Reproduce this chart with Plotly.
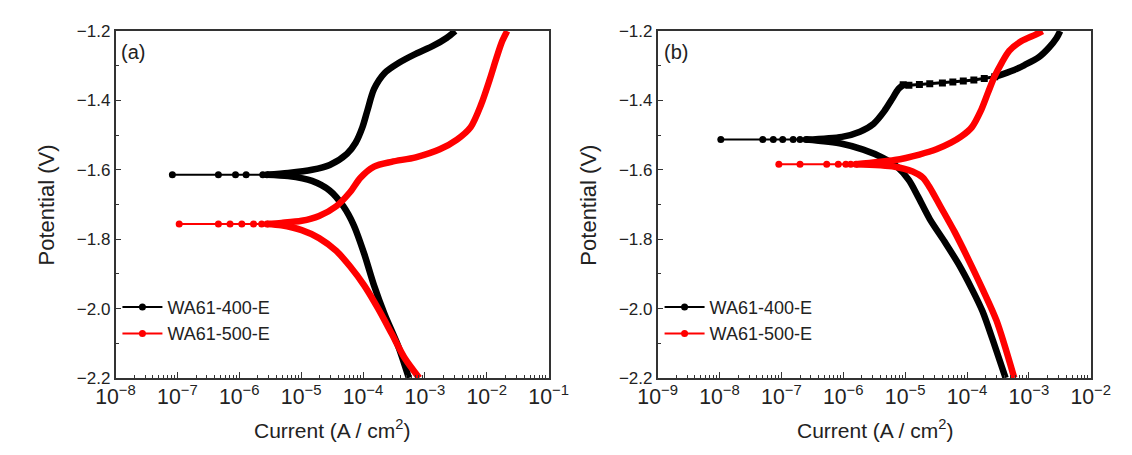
import plotly.graph_objects as go

# ---------------- Panel (a) data ----------------
a400_plat_i = [8.3e-8, 4.6e-7, 8.7e-7, 1.29e-6, 2.4e-6, 2.8e-6]
a400_plat_E = [-1.614, -1.614, -1.614, -1.614, -1.614, -1.614]
a400_ano_i = [2.8e-6, 6.2e-6, 1.5e-5, 2.9e-5, 5.5e-5, 7.6e-5, 9.8e-5, 1.17e-4, 1.51e-4,
              2.24e-4, 3.7e-4, 7.1e-4, 1.35e-3, 2.24e-3, 3.1e-3]
a400_ano_E = [-1.614, -1.609, -1.600, -1.586, -1.554, -1.522, -1.477, -1.431, -1.367,
              -1.321, -1.293, -1.266, -1.243, -1.220, -1.200]
a400_cat_i = [2.8e-6, 6.2e-6, 1.5e-5, 2.9e-5, 4.8e-5, 7.1e-5, 1.05e-4, 1.51e-4, 2.24e-4,
              3.7e-4, 5.5e-4]
a400_cat_E = [-1.614, -1.618, -1.632, -1.660, -1.705, -1.760, -1.843, -1.934, -2.017,
              -2.108, -2.200]

a500_plat_i = [1.07e-7, 4.6e-7, 7.1e-7, 1.1e-6, 1.7e-6, 2.3e-6, 2.8e-6]
a500_plat_E = [-1.756, -1.756, -1.756, -1.756, -1.756, -1.756, -1.756]
a500_ano_i = [2.8e-6, 4.8e-6, 1.02e-5, 1.95e-5, 3.7e-5, 6.2e-5, 9.1e-5, 1.51e-4, 2.9e-4,
              7.1e-4, 1.74e-3, 3.3e-3, 5.5e-3, 8.1e-3, 1.12e-2, 1.45e-2, 1.78e-2, 2.14e-2]
a500_ano_E = [-1.756, -1.753, -1.747, -1.733, -1.705, -1.664, -1.623, -1.591, -1.577,
              -1.564, -1.541, -1.513, -1.477, -1.412, -1.339, -1.275, -1.229, -1.200]
a500_cat_i = [2.8e-6, 4.8e-6, 1.02e-5, 1.95e-5, 3.7e-5, 6.2e-5, 1.05e-4, 1.74e-4, 2.9e-4,
              4.8e-4, 8.1e-4]
a500_cat_E = [-1.756, -1.760, -1.774, -1.797, -1.834, -1.879, -1.934, -1.999, -2.072,
              -2.145, -2.200]

# ---------------- Panel (b) data ----------------
b400_plat_i = [1.05e-8, 5.0e-8, 7.4e-8, 1.05e-7, 1.55e-7, 2.0e-7, 2.5e-7]
b400_plat_E = [-1.513, -1.513, -1.513, -1.513, -1.513, -1.513, -1.513]
b400_ano1_i = [2.5e-7, 9.5e-7, 1.86e-6, 3.1e-6, 4.6e-6, 6.0e-6, 7.8e-6, 9.3e-6]
b400_ano1_E = [-1.513, -1.505, -1.490, -1.467, -1.431, -1.399, -1.367, -1.355]
b400_step_i = [9.3e-6, 1.15e-5, 1.7e-5, 2.5e-5, 4.0e-5, 5.9e-5, 8.7e-5, 1.29e-4, 1.9e-4, 2.8e-4]
b400_step_E = [-1.355, -1.356, -1.354, -1.352, -1.350, -1.347, -1.344, -1.341, -1.337, -1.332]
b400_ano2_i = [2.8e-4, 5.8e-4, 8.5e-4, 1.45e-3, 2.1e-3, 2.8e-3, 3.2e-3]
b400_ano2_E = [-1.332, -1.312, -1.298, -1.275, -1.248, -1.220, -1.200]
b400_cat_i = [2.5e-7, 9.5e-7, 2.1e-6, 4.3e-6, 7.5e-6, 1.15e-5, 1.6e-5, 2.5e-5, 4.3e-5,
              7.2e-5, 1.2e-4, 1.78e-4, 2.6e-4, 4.2e-4]
b400_cat_E = [-1.513, -1.525, -1.542, -1.565, -1.592, -1.630, -1.676, -1.742, -1.806,
              -1.870, -1.944, -2.008, -2.090, -2.200]

b500_plat_i = [9.1e-8, 2.0e-7, 5.4e-7, 8.3e-7, 1.1e-6, 1.32e-6, 1.6e-6]
b500_plat_E = [-1.584, -1.584, -1.584, -1.584, -1.584, -1.584, -1.584]
b500_ano_i = [1.6e-6, 6.8e-6, 1.7e-5, 3.2e-5, 5.5e-5, 8.1e-5, 1.2e-4, 1.66e-4, 2.2e-4,
              2.8e-4, 3.6e-4, 4.8e-4, 7.6e-4, 1.26e-3, 1.66e-3]
b500_ano_E = [-1.584, -1.572, -1.556, -1.541, -1.522, -1.504, -1.477, -1.431, -1.376,
              -1.330, -1.293, -1.257, -1.229, -1.211, -1.200]
b500_cat_i = [1.6e-6, 6.8e-6, 1.32e-5, 1.95e-5, 2.5e-5, 3.7e-5, 6.3e-5, 1.07e-4, 1.78e-4,
              3.0e-4, 5.8e-4]
b500_cat_E = [-1.584, -1.591, -1.605, -1.623, -1.651, -1.705, -1.779, -1.861, -1.944,
              -2.035, -2.200]

names = ["WA61-400-E", "WA61-500-E"]
colors = ["#000000", "#ff0000"]
y_ticks = [-2.2, -2.0, -1.8, -1.6, -1.4, -1.2]

FONT = "Arial, Liberation Sans, sans-serif"
W, H = 1132, 455

fig = go.Figure()


def thick(x, y, color, xa, ya):
    fig.add_trace(go.Scatter(x=x, y=y, mode="lines", xaxis=xa, yaxis=ya,
                             line=dict(color=color, width=6.5, shape="spline", smoothing=0.8),
                             showlegend=False, hoverinfo="skip"))


def plateau(x, y, color, name, xa, ya, legend):
    fig.add_trace(go.Scatter(x=x, y=y, mode="lines+markers", xaxis=xa, yaxis=ya, name=name,
                             line=dict(color=color, width=2),
                             marker=dict(color=color, size=7, symbol="circle"),
                             legend=legend, showlegend=True))


# Panel (a)
thick(a400_cat_i, a400_cat_E, colors[0], "x", "y")
thick(a400_ano_i, a400_ano_E, colors[0], "x", "y")
plateau(a400_plat_i, a400_plat_E, colors[0], names[0], "x", "y", "legend")
thick(a500_cat_i, a500_cat_E, colors[1], "x", "y")
thick(a500_ano_i, a500_ano_E, colors[1], "x", "y")
plateau(a500_plat_i, a500_plat_E, colors[1], names[1], "x", "y", "legend")

# Panel (b)
thick(b400_cat_i, b400_cat_E, colors[0], "x2", "y2")
thick(b400_ano1_i, b400_ano1_E, colors[0], "x2", "y2")
fig.add_trace(go.Scatter(x=b400_step_i, y=b400_step_E, mode="lines+markers", xaxis="x2", yaxis="y2",
                         line=dict(color=colors[0], width=3),
                         marker=dict(color=colors[0], size=7, symbol="square"),
                         showlegend=False, hoverinfo="skip"))
thick(b400_ano2_i, b400_ano2_E, colors[0], "x2", "y2")
plateau(b400_plat_i, b400_plat_E, colors[0], names[0], "x2", "y2", "legend2")
thick(b500_cat_i, b500_cat_E, colors[1], "x2", "y2")
thick(b500_ano_i, b500_ano_E, colors[1], "x2", "y2")
plateau(b500_plat_i, b500_plat_E, colors[1], names[1], "x2", "y2", "legend2")

axcol = "#333333"
common_x = dict(type="log", dtick=1, exponentformat="power", showgrid=False, zeroline=False,
                showline=True, mirror=True, linecolor=axcol, linewidth=1.5,
                ticks="inside", ticklen=6, tickcolor=axcol, tickwidth=1.2,
                minor=dict(ticks="inside", ticklen=3, dtick="D1", tickcolor=axcol, showgrid=False),
                tickfont=dict(family=FONT, size=17, color="#222"))
common_y = dict(range=[-2.2, -1.2], tickvals=y_ticks, tickformat=".1f", showgrid=False, zeroline=False,
                showline=True, mirror=True, linecolor=axcol, linewidth=1.5,
                ticks="inside", ticklen=6, tickcolor=axcol, tickwidth=1.2,
                minor=dict(ticks="inside", ticklen=4, dtick=0.1, tickcolor=axcol, showgrid=False),
                tickfont=dict(family=FONT, size=17, color="#222"))

y0, y1 = 1 - 385 / H, 1 - 23 / H
fig.update_layout(
    width=W, height=H, margin=dict(l=0, r=0, t=0, b=0),
    paper_bgcolor="white", plot_bgcolor="white",
    font=dict(family=FONT, color="#222"),
    xaxis=dict(common_x, range=[-8, -1], domain=[99 / W, 548 / W], anchor="y"),
    yaxis=dict(common_y, domain=[y0, y1], anchor="x"),
    xaxis2=dict(common_x, range=[-9, -2], domain=[661 / W, 1110 / W], anchor="y2"),
    yaxis2=dict(common_y, domain=[y0, y1], anchor="x2"),
    legend=dict(x=101 / W, y=1 - 292 / H, xanchor="left", yanchor="top",
                bgcolor="rgba(0,0,0,0)", font=dict(family=FONT, size=18, color="#222"),
                tracegroupgap=0, itemwidth=40),
    legend2=dict(x=663 / W, y=1 - 292 / H, xanchor="left", yanchor="top",
                 bgcolor="rgba(0,0,0,0)", font=dict(family=FONT, size=18, color="#222"),
                 tracegroupgap=0, itemwidth=40),
    showlegend=True,
)

ann = [
    dict(text="(a)", x=103 / W, y=1 - 45 / H, xanchor="left", yanchor="middle", size=20),
    dict(text="(b)", x=665 / W, y=1 - 45 / H, xanchor="left", yanchor="middle", size=20),
    dict(text="Current (A / cm<sup>2</sup>)", x=323 / W, y=1 - 438 / H, xanchor="center", yanchor="middle", size=21),
    dict(text="Current (A / cm<sup>2</sup>)", x=886 / W, y=1 - 438 / H, xanchor="center", yanchor="middle", size=21),
]
for a in ann:
    fig.add_annotation(text=a["text"], xref="paper", yref="paper", x=a["x"], y=a["y"],
                       xanchor=a["xanchor"], yanchor=a["yanchor"], showarrow=False,
                       font=dict(family=FONT, size=a["size"], color="#222"))
for xp in (27, 589):
    fig.add_annotation(text="Potential (V)", xref="paper", yref="paper", x=xp / W, y=1 - 205 / H,
                       xanchor="center", yanchor="middle", textangle=-90, showarrow=False,
                       font=dict(family=FONT, size=22, color="#222"))

fig.write_html("out.html")
